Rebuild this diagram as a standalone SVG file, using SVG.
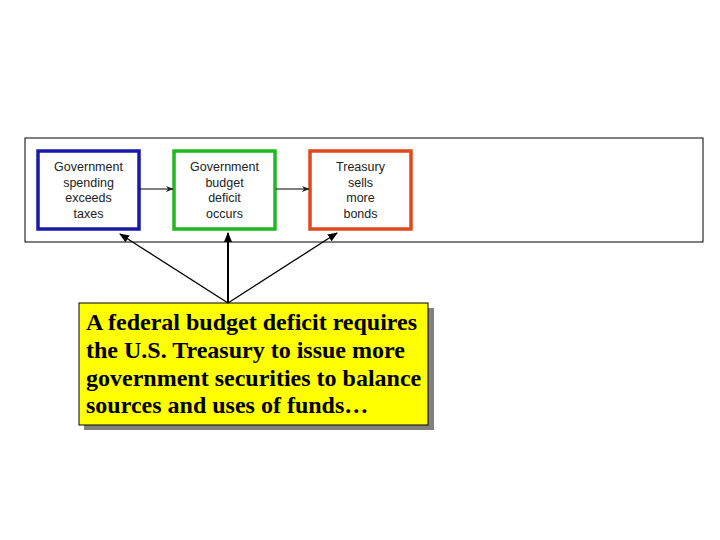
<svg xmlns="http://www.w3.org/2000/svg" width="720" height="540" viewBox="0 0 720 540">
<style>
.small{font-family:"Liberation Sans",Arial,sans-serif;font-size:12.5px;fill:#222;text-anchor:middle}
.big{font-family:"Liberation Serif","Times New Roman",serif;font-size:24px;font-weight:bold;fill:#000}
.box{fill:#fff;stroke-width:3.5}
.conn{stroke:#000;fill:none}
</style>
<defs>
<marker id="ah" viewBox="0 0 10 10" refX="9" refY="5" markerWidth="8" markerHeight="8" orient="auto" markerUnits="userSpaceOnUse"><path d="M0,1 L10,5 L0,9 L3,5 z" fill="#222"/></marker>
<marker id="ab" viewBox="0 0 10 10" refX="9" refY="5" markerWidth="10" markerHeight="10" orient="auto" markerUnits="userSpaceOnUse"><path d="M0,1 L10,5 L0,9 z" fill="#000"/></marker>
</defs>
<rect width="720" height="540" fill="#fff"/>
<rect id="frame" x="25" y="138" width="678" height="104" fill="#fff" stroke="#000" stroke-width="1"/>
<g id="n1"><rect class="box" x="38" y="151" width="101" height="78" stroke="#1a1aa8"/>
<text class="small" x="88.5" y="171">Government</text><text class="small" x="88.5" y="187">spending</text><text class="small" x="88.5" y="202">exceeds</text><text class="small" x="88.5" y="218">taxes</text></g>
<g id="n2"><rect class="box" x="174" y="151" width="101" height="78" stroke="#22b822"/>
<text class="small" x="224.5" y="171">Government</text><text class="small" x="224.5" y="187">budget</text><text class="small" x="224.5" y="202">deficit</text><text class="small" x="224.5" y="218">occurs</text></g>
<g id="n3"><rect class="box" x="310" y="151" width="101" height="78" stroke="#e0481e"/>
<text class="small" x="360.5" y="171">Treasury</text><text class="small" x="360.5" y="187">sells</text><text class="small" x="360.5" y="202">more</text><text class="small" x="360.5" y="218">bonds</text></g>
<g id="note"><rect x="84" y="308" width="350" height="122" fill="#808080"/>
<rect x="79" y="303" width="349" height="122" fill="#ffff00" stroke="#000" stroke-width="1"/>
<text class="big" x="86" y="330">A federal budget deficit requires</text>
<text class="big" x="86" y="358">the U.S. Treasury to issue more</text>
<text class="big" x="86" y="386">government securities to balance</text>
<text class="big" x="86" y="413">sources and uses of funds…</text></g>
<g id="connectors">
<line class="conn" x1="140" y1="189" x2="173" y2="189" marker-end="url(#ah)"/>
<line class="conn" x1="276" y1="189" x2="309" y2="189" marker-end="url(#ah)"/>
<line class="conn" x1="228" y1="303" x2="120" y2="234" stroke-width="1.3" marker-end="url(#ab)"/>
<line class="conn" x1="228" y1="303" x2="228" y2="233" stroke-width="2" marker-end="url(#ab)"/>
<line class="conn" x1="228" y1="303" x2="337" y2="233" stroke-width="1.3" marker-end="url(#ab)"/>
</g>
</svg>
